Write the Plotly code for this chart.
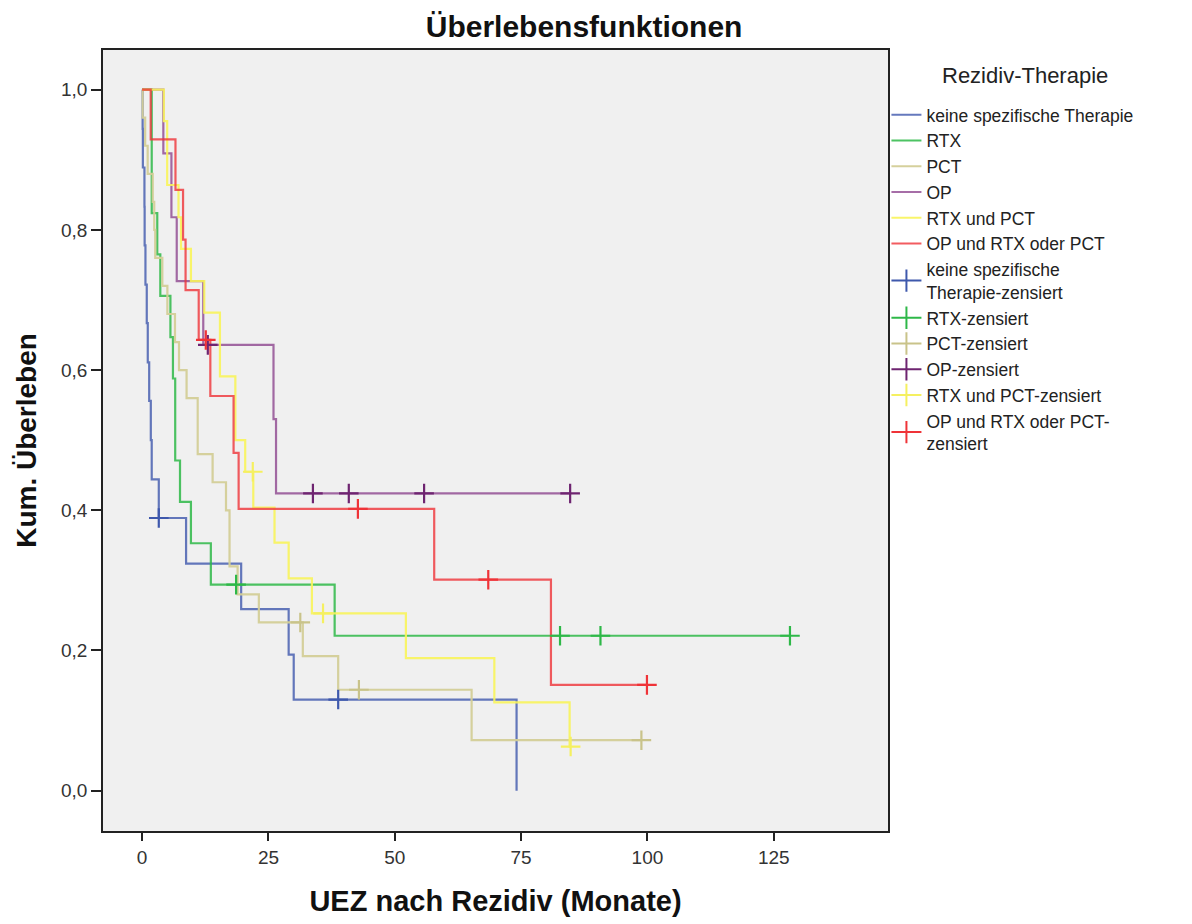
import plotly.graph_objects as go

# ---------------- data ----------------
groups = ["keine spezifische Therapie", "RTX", "PCT", "OP", "RTX und PCT", "OP und RTX oder PCT"]
censor_names = ["keine spezifische<br>Therapie-zensiert", "RTX-zensiert", "PCT-zensiert",
                "OP-zensiert", "RTX und PCT-zensiert", "OP und RTX oder PCT-<br>zensiert"]
legend_title = "Rezidiv-Therapie"

blue_t = [0, 0.1, 0.15, 0.46, 0.5, 0.66, 0.92, 1.12, 1.4, 1.72, 1.9, 3.3, 8.7, 19.6, 29.0, 30.0, 74.1]
blue_s = [1.0, 0.944, 0.889, 0.833, 0.778, 0.722, 0.667, 0.611, 0.556, 0.500, 0.444, 0.389,
          0.324, 0.259, 0.194, 0.130, 0.0]
blue_c = [3.3, 38.8]

green_t = [0, 1.9, 3.0, 3.6, 5.6, 6.1, 6.55, 7.5, 9.66, 13.6, 38.1]
green_s = [1.0, 0.824, 0.765, 0.706, 0.647, 0.588, 0.471, 0.412, 0.353, 0.294, 0.221]
green_c = [18.6, 82.7, 90.7, 128.2]

khaki_t = [0, 0.1, 0.6, 1.1, 2.1, 2.4, 2.6, 4.0, 5.0, 6.5, 7.3, 8.8, 11.0, 13.95, 16.6, 17.3,
           18.9, 23.1, 31.8, 38.8, 65.2]
khaki_s = [1.0, 0.96, 0.92, 0.88, 0.84, 0.80, 0.76, 0.72, 0.68, 0.64, 0.60, 0.56, 0.48, 0.44,
           0.40, 0.32, 0.28, 0.24, 0.192, 0.144, 0.072]
khaki_c = [31.3, 42.9, 98.8]

purple_t = [0, 4.2, 5.8, 6.85, 12.1, 26.0, 26.5]
purple_s = [1.0, 0.909, 0.818, 0.727, 0.636, 0.530, 0.424]
purple_c = [13.0, 33.8, 40.9, 55.8, 84.7]

yellow_t = [0, 4.3, 4.96, 7.2, 7.7, 9.66, 12.3, 15.4, 18.45, 20.4, 22.0, 26.2, 29.0, 33.6,
            52.2, 69.7, 84.6]
yellow_s = [1.0, 0.955, 0.864, 0.818, 0.773, 0.727, 0.682, 0.591, 0.500, 0.455, 0.404, 0.354,
            0.303, 0.253, 0.189, 0.126, 0.063]
yellow_c = [21.9, 35.8, 84.8]

red_t = [0, 1.7, 6.6, 8.1, 8.6, 11.2, 13.5, 18.1, 19.1, 57.8, 80.9]
red_s = [1.0, 0.929, 0.857, 0.786, 0.714, 0.643, 0.563, 0.482, 0.402, 0.301, 0.151]
red_c = [12.6, 42.7, 68.5, 99.9]

x_ticks = [0, 25, 50, 75, 100, 125]
y_ticks = [0.0, 0.2, 0.4, 0.6, 0.8, 1.0]

# ---------------- styling ----------------
line_colors = ["rgba(62,88,172,0.8)", "rgba(46,184,72,0.85)", "rgba(211,206,151,0.95)",
               "rgba(124,40,125,0.68)", "rgba(248,244,90,0.9)", "rgba(239,51,56,0.8)"]
mark_colors = ["#3E58AC", "#2EB848", "#C9C38A", "#6E2470", "#F5F060", "#EF3338"]
FONT = "Liberation Sans, Arial, sans-serif"

series = [
    (blue_t, blue_s, blue_c),
    (green_t, green_s, green_c),
    (khaki_t, khaki_s, khaki_c),
    (purple_t, purple_s, purple_c),
    (yellow_t, yellow_s, yellow_c),
    (red_t, red_s, red_c),
]


def surv_at(ts, ss, t):
    val = ss[0]
    for ti, si in zip(ts, ss):
        if ti <= t:
            val = si
    return val


fig = go.Figure()

# survival step lines
for i, (ts, ss, cs) in enumerate(series):
    xs = list(ts)
    ys = list(ss)
    if cs and max(cs) > xs[-1]:
        xs.append(max(cs))
        ys.append(ys[-1])
    fig.add_trace(go.Scatter(
        x=xs, y=ys, mode="lines", line=dict(shape="hv", color=line_colors[i], width=2.2),
        name=groups[i], legendgroup=groups[i], hoverinfo="skip"))

# legend entries for censored marks
for i in range(len(series)):
    fig.add_trace(go.Scatter(
        x=[None], y=[None], mode="lines+markers", name=censor_names[i],
        line=dict(color=mark_colors[i], width=2),
        marker=dict(symbol="line-ns", size=16, line=dict(color=mark_colors[i], width=2))))

# censored marks
for i, (ts, ss, cs) in enumerate(series):
    fig.add_trace(go.Scatter(
        x=cs, y=[surv_at(ts, ss, c) for c in cs], mode="markers", showlegend=False,
        marker=dict(symbol="cross-thin", size=14, line=dict(color=mark_colors[i], width=2.2)),
        hoverinfo="skip"))

fig.update_layout(
    width=1192, height=924,
    margin=dict(l=103, r=304, t=50, b=93),
    paper_bgcolor="white", plot_bgcolor="#F0F0F0",
    separators=",.",
    font=dict(family=FONT, color="#222222"),
    title=dict(text="<b>Überlebensfunktionen</b>", x=0.49, xanchor="center",
               xref="container", y=1 - 26 / 924, yanchor="middle", yref="container",
               font=dict(size=30, color="#111111")),
    legend=dict(x=0.998, xanchor="left", y=0.940, yanchor="top",
                bgcolor="rgba(0,0,0,0)", font=dict(size=17.5, color="#222222"),
                tracegroupgap=0, itemwidth=30),
    annotations=[dict(text=legend_title, xref="paper", yref="paper", x=1.175, y=1 - 25 / 781,
                      xanchor="center", yanchor="middle", showarrow=False,
                      font=dict(size=22, color="#222222"))],
)

fig.update_xaxes(
    range=[-7.74, 147.6], tickvals=x_ticks, ticks="outside", ticklen=8, tickwidth=1.5,
    tickcolor="#222222", showgrid=False, zeroline=False, showline=True, linecolor="#222222",
    linewidth=1.5, mirror=True, tickfont=dict(size=19, color="#333333"),
    title=dict(text="<b>UEZ nach Rezidiv (Monate)</b>", font=dict(size=29, color="#111111"),
               standoff=24))
fig.update_yaxes(
    range=[-0.0575, 1.0566], tickvals=y_ticks, tickformat=".1f", ticks="outside", ticklen=10,
    tickwidth=1.5, tickcolor="#222222", showgrid=False, zeroline=False, showline=True,
    linecolor="#222222", linewidth=1.5, mirror=True, tickfont=dict(size=19, color="#333333"),
    title=dict(text="<b>Kum. Überleben</b>", font=dict(size=28, color="#111111"), standoff=16))

fig.write_html("out.html")
